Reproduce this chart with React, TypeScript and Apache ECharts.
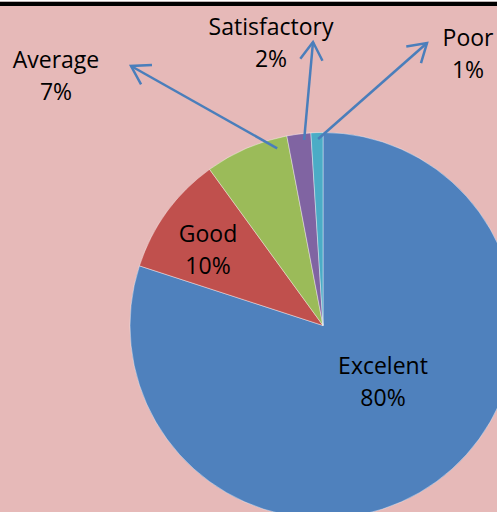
import React, { useEffect, useRef } from "react";
import * as echarts from "echarts";

const categories = ["Excelent", "Good", "Average", "Satisfactory", "Poor"];
const values = [80, 10, 7, 2, 1];
const colors = ["#4F81BD", "#C0504D", "#9BBB59", "#8064A2", "#4BACC6"];

// label block centres (layout)
const labelPos: [number, number][] = [
  [383, 381],
  [208, 249],
  [56, 75],
  [271, 42],
  [468, 53],
];

// arrow annotations: tail as (angle clockwise from top, radius), tip in px
const arrowTails: [number, number][] = [
  [345.5, 183],
  [354.2, 186.5],
  [358.5, 186.6],
];
const arrowTips: [number, number][] = [
  [131, 66],
  [313, 42],
  [427, 43],
];

const W = 497;
const H = 512;
const CX = 323;
const CY = 325.5;
const R = 193;

function arrowGraphics() {
  const out: any[] = [];
  const col = "#4A7EBB";
  arrowTails.forEach((t, i) => {
    const a = (t[0] * Math.PI) / 180;
    const x1 = CX + t[1] * Math.sin(a);
    const y1 = CY - t[1] * Math.cos(a);
    const [x2, y2] = arrowTips[i];
    const ang = Math.atan2(y2 - y1, x2 - x1);
    const L = 21;
    const spread = (32 * Math.PI) / 180;
    const w1 = [x2 - L * Math.cos(ang - spread), y2 - L * Math.sin(ang - spread)];
    const w2 = [x2 - L * Math.cos(ang + spread), y2 - L * Math.sin(ang + spread)];
    out.push({
      type: "line",
      z: 100,
      shape: { x1, y1, x2, y2 },
      style: { stroke: col, lineWidth: 2.5 },
    });
    out.push({
      type: "polyline",
      z: 100,
      shape: { points: [w1, [x2, y2], w2] },
      style: { stroke: col, lineWidth: 2.5, fill: "none", lineJoin: "miter" },
    });
  });
  return out;
}

export default function App() {
  const ref = useRef<HTMLDivElement>(null);
  useEffect(() => {
    document.body.style.margin = "0";
    const chart = echarts.init(ref.current!, undefined, { renderer: "svg" });
    chart.setOption({
      animation: false,
      backgroundColor: "#E6B9B8",
      graphic: [
        { type: "rect", z: 50, shape: { x: 0, y: 0, width: W, height: 1.7 }, style: { fill: "#ffffff" } },
        { type: "rect", z: 50, shape: { x: 0, y: 1.7, width: W, height: 4.3 }, style: { fill: "#000000" } },
        ...arrowGraphics(),
      ],
      series: [
        {
          type: "pie",
          center: [CX, CY],
          radius: [0, R],
          startAngle: 90,
          clockwise: true,
          avoidLabelOverlap: false,
          itemStyle: { borderColor: "#ffffff", borderWidth: 0.4 },
          emphasis: { disabled: true },
          labelLine: { show: false },
          label: {
            show: true,
            position: "inside",
            fontFamily: "Open Sans",
            fontSize: 23,
            lineHeight: 32,
            color: "#000000",
            formatter: (p: any) => `${p.name}\n${Math.round(p.percent)}%`,
          },
          labelLayout: (p: any) => {
            const pos = labelPos[p.dataIndex];
            return { x: pos[0], y: pos[1], align: "center", verticalAlign: "middle" };
          },
          data: categories.map((c, i) => ({
            name: c,
            value: values[i],
            itemStyle: { color: colors[i] },
          })),
        },
      ],
    });
    return () => chart.dispose();
  }, []);
  return (
    <div
      ref={ref}
      style={{ position: "fixed", left: 0, top: 0, width: W, height: H }}
    />
  );
}
